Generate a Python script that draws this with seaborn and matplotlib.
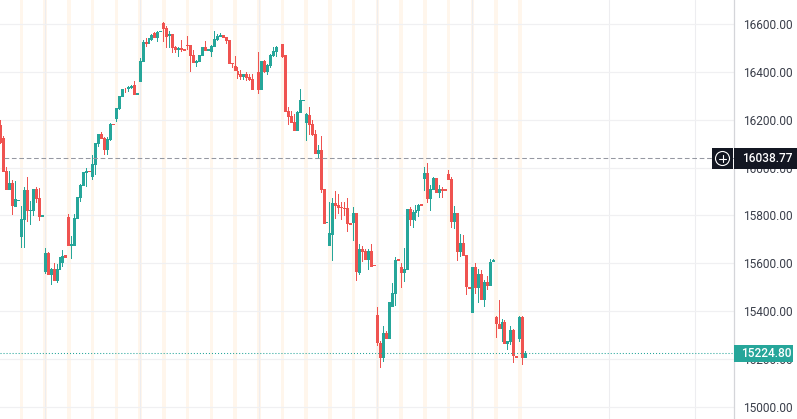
import pandas as pd
import matplotlib
matplotlib.use('Agg')
import matplotlib.pyplot as plt
import seaborn as sns
from matplotlib.patches import Rectangle, Circle
from matplotlib.lines import Line2D
from matplotlib.transforms import IdentityTransform

# prices, one entry per candle
opens = [16178, 16123, 15986, 15906, 15935, 15835, 15862, 15710, 15781, 15906, 15820, 15818, 15910, 15873, 15793,
         15565, 15643, 15551, 15576, 15527, 15572, 15603, 15635, 15793, 15672, 15672, 15785, 15873, 15923, 15979,
         15987, 15960, 16011, 16098, 16140, 16123, 16073, 16115, 16182, 16203, 16245, 16295, 16330, 16328, 16332,
         16345, 16303, 16357, 16441, 16525, 16516, 16533, 16562, 16541, 16568, 16604, 16583, 16550, 16558, 16504,
         16491, 16499, 16494, 16513, 16513, 16470, 16437, 16441, 16466, 16504, 16487, 16483, 16504, 16533, 16545,
         16554, 16545, 16533, 16435, 16424, 16403, 16391, 16378, 16391, 16378, 16370, 16325, 16399, 16324, 16445,
         16399, 16424, 16466, 16483, 16502, 16516, 16470, 16236, 16215, 16190, 16153, 16228, 16279, 16186, 16220,
         16182, 16140, 16057, 16073, 15910, 15770, 15672, 15718, 15852, 15844, 15835, 15831, 15831, 15768, 15768,
         15810, 15559, 15660, 15651, 15614, 15651, 15593, 15384, 15267, 15204, 15309, 15284, 15417, 15472, 15616,
         15584, 15559, 15572, 15827, 15781, 15810, 15818, 15848, 15952, 15977, 15869, 15906, 15956, 15894, 15910,
         15909, 15973, 15952, 15773, 15810, 15647, 15685, 15635, 15500, 15392, 15584, 15497, 15555, 15447, 15522,
         15505, 15607, 15376, 15346, 15325, 15355, 15263, 15271, 15321, 15211, 15284, 15376, 15204]
highs = [16199, 16132, 16001, 15987, 15948, 15944, 15865, 15839, 15919, 15960, 15860, 15910, 15919, 15915, 15802,
         15664, 15647, 15580, 15601, 15597, 15626, 15655, 15635, 15806, 15714, 15806, 15877, 15931, 15981, 15998,
         15987, 16052, 16103, 16140, 16148, 16128, 16128, 16186, 16182, 16249, 16299, 16328, 16332, 16341, 16345,
         16362, 16311, 16458, 16533, 16541, 16541, 16558, 16566, 16571, 16571, 16608, 16591, 16571, 16558, 16508,
         16504, 16533, 16494, 16550, 16513, 16491, 16449, 16470, 16504, 16529, 16495, 16512, 16571, 16558, 16562,
         16554, 16545, 16533, 16435, 16466, 16421, 16408, 16391, 16399, 16391, 16391, 16325, 16483, 16445, 16449,
         16433, 16474, 16504, 16508, 16505, 16516, 16470, 16253, 16236, 16224, 16236, 16328, 16282, 16228, 16253,
         16199, 16157, 16094, 16132, 15910, 15773, 15856, 15873, 15902, 15889, 15856, 15856, 15873, 15768, 15835,
         15810, 15681, 15672, 15660, 15660, 15681, 15593, 15417, 15275, 15338, 15317, 15438, 15518, 15626, 15616,
         15601, 15664, 15827, 15835, 15823, 15844, 15848, 15848, 16002, 16019, 15927, 15960, 15956, 15927, 15919,
         15909, 15990, 15960, 15839, 15810, 15722, 15718, 15635, 15500, 15584, 15601, 15576, 15572, 15530, 15547,
         15618, 15616, 15380, 15447, 15367, 15363, 15275, 15338, 15325, 15211, 15380, 15380, 15233]
lows = [16098, 15983, 15906, 15906, 15802, 15835, 15861, 15664, 15664, 15774, 15760, 15798, 15852, 15777, 15793,
        15555, 15551, 15509, 15527, 15518, 15572, 15586, 15622, 15672, 15618, 15672, 15785, 15856, 15923, 15920,
        15981, 15948, 15969, 16086, 16119, 16052, 16052, 16111, 16178, 16190, 16240, 16295, 16311, 16316, 16328,
        16303, 16303, 16357, 16441, 16504, 16516, 16529, 16541, 16525, 16568, 16525, 16499, 16499, 16479, 16479,
        16462, 16483, 16488, 16491, 16399, 16437, 16420, 16441, 16466, 16487, 16487, 16462, 16504, 16529, 16545,
        16541, 16516, 16433, 16416, 16403, 16370, 16366, 16366, 16362, 16362, 16323, 16323, 16307, 16324, 16395,
        16387, 16416, 16462, 16462, 16502, 16458, 16232, 16178, 16186, 16153, 16153, 16228, 16279, 16111, 16136,
        16132, 16057, 16040, 15894, 15764, 15770, 15672, 15610, 15785, 15806, 15781, 15798, 15731, 15760, 15693,
        15526, 15551, 15605, 15614, 15572, 15584, 15590, 15254, 15162, 15188, 15284, 15284, 15417, 15422, 15611,
        15497, 15522, 15572, 15756, 15747, 15777, 15793, 15839, 15902, 15852, 15818, 15906, 15894, 15873, 15873,
        15903, 15948, 15747, 15743, 15610, 15626, 15630, 15467, 15494, 15392, 15472, 15434, 15447, 15417, 15488,
        15505, 15607, 15288, 15325, 15271, 15263, 15238, 15259, 15183, 15206, 15271, 15175, 15204]
closes = [16101, 15983, 15906, 15935, 15841, 15869, 15864, 15785, 15906, 15820, 15823, 15910, 15869, 15793, 15802,
          15643, 15551, 15576, 15527, 15576, 15605, 15630, 15622, 15672, 15679, 15789, 15877, 15927, 15981, 15986,
          15981, 16015, 16103, 16140, 16119, 16073, 16119, 16182, 16178, 16249, 16299, 16328, 16327, 16336, 16341,
          16303, 16311, 16445, 16525, 16516, 16533, 16554, 16541, 16566, 16571, 16579, 16545, 16558, 16499, 16491,
          16499, 16491, 16488, 16509, 16466, 16437, 16445, 16470, 16504, 16487, 16495, 16508, 16537, 16550, 16554,
          16541, 16529, 16433, 16433, 16403, 16387, 16378, 16391, 16374, 16366, 16323, 16323, 16324, 16445, 16399,
          16428, 16470, 16487, 16504, 16505, 16462, 16232, 16211, 16186, 16153, 16232, 16282, 16282, 16224, 16178,
          16136, 16057, 16073, 15906, 15764, 15773, 15727, 15852, 15839, 15831, 15831, 15827, 15764, 15760, 15810,
          15564, 15660, 15647, 15614, 15651, 15584, 15590, 15267, 15204, 15309, 15284, 15438, 15476, 15614, 15611,
          15559, 15576, 15827, 15781, 15814, 15823, 15844, 15839, 15977, 15869, 15910, 15956, 15894, 15910, 15902,
          15903, 15948, 15773, 15810, 15647, 15685, 15630, 15501, 15494, 15584, 15497, 15555, 15447, 15522, 15505,
          15605, 15612, 15346, 15325, 15355, 15263, 15275, 15321, 15213, 15206, 15376, 15204, 15225]

price_ticks = [15000, 15200, 15400, 15600, 15800, 16000, 16200, 16400, 16600]
session_marks = [7 + 8 * k for k in range(22)]
grid_marks = [15, 47, 87, 127, 159, 205, 234]
alert_price = 16038.77
last_price = 15224.80

TEAL = '#26a69a'
RED = '#ef5350'
DARK = '#131722'
W, H = 797, 419

sns.set_theme(style='white', rc={'font.family': ['Roboto', 'DejaVu Sans']})

df = pd.DataFrame({'bar': range(len(opens)), 'open': opens, 'high': highs, 'low': lows, 'close': closes})
df['top'] = df[['open', 'close']].max(axis=1)
df['bottom'] = df[['open', 'close']].min(axis=1)
df['falling'] = df['close'] < df['open']

fig = plt.figure(figsize=(W / 100, H / 100), dpi=100, facecolor='white')
ax = fig.add_axes([0, 0, 734 / W, 1])

for m in session_marks:
    ax.axvspan(m - 0.6, m + 0.6, color='#fff6ec', lw=0, zorder=0)
for m in grid_marks:
    ax.axvline(m, color='#ededf0', lw=0.8, zorder=0.5)
for p in price_ticks:
    ax.axhline(p, color='#f0f0f2', lw=0.9, zorder=0.5)


# wicks first, bodies on top
for falling, colour in [(False, TEAL), (True, RED)]:
    sub = df[df['falling'] == falling]
    sns.barplot(x=sub['bar'].values, y=(sub['high'] - sub['low']).values, bottom=sub['low'].values,
                native_scale=True, width=0.34, color=colour, saturation=1, errorbar=None, linewidth=0, ax=ax, zorder=2)
    sns.barplot(x=sub['bar'].values, y=(sub['top'] - sub['bottom']).values, bottom=sub['bottom'].values,
                native_scale=True, width=1.0, color=colour, saturation=1, errorbar=None, linewidth=0, ax=ax, zorder=3)

ax.plot([1, 250], [alert_price, alert_price], color='#9598a1', lw=0.75, ls=(0, (4.5, 2.6)), zorder=4)
ax.axhline(last_price, color=TEAL, lw=0.75, ls=(0, (1, 1.9)), zorder=4)

ax.set_xlim(-0.226, 247.2)
ax.set_ylim(14949.4, 16700)
ax.set_xlabel('')
ax.set_ylabel('')
ax.set_xticks([])
ax.set_yticks(price_ticks)
ax.set_yticklabels(['%.2f' % p for p in price_ticks])
ax.yaxis.tick_right()
ax.tick_params(axis='y', length=0, pad=42, labelsize=8.6, labelcolor='#3a3e4a')
for lab in ax.get_yticklabels():
    lab.set_ha('right')
for s in ['top', 'left', 'bottom']:
    ax.spines[s].set_visible(False)
ax.spines['right'].set_color('#d4d5d9')
ax.spines['right'].set_linewidth(0.9)


# price labels sit on top of the axis, in pixels from the top left
def box(x0, y0, x1, y1, colour):
    fig.add_artist(Rectangle((x0, H - y1), x1 - x0, y1 - y0, facecolor=colour, edgecolor='none',
                             transform=IdentityTransform(), zorder=5))


box(712, 148, 733, 169, DARK)
box(734, 148, 797, 169, DARK)
box(734, 345, 793, 362, TEAL)
fig.add_artist(Circle((722.5, H - 158.5), 7, facecolor='none', edgecolor='white', lw=0.8,
                      transform=IdentityTransform(), zorder=6))
fig.add_artist(Line2D([719, 726], [H - 158.5, H - 158.5], color='white', lw=0.8, transform=IdentityTransform(), zorder=6))
fig.add_artist(Line2D([722.5, 722.5], [H - 155, H - 162], color='white', lw=0.8, transform=IdentityTransform(), zorder=6))
fig.text(793 / W, 1 - 158.5 / H, '%.2f' % alert_price, color='white', fontsize=8.6, fontweight='medium',
         ha='right', va='center', zorder=6)
fig.text(792 / W, 1 - 353.5 / H, '%.2f' % last_price, color='white', fontsize=8.6, fontweight='medium',
         ha='right', va='center', zorder=6)

fig.savefig('out.png', dpi=100)
